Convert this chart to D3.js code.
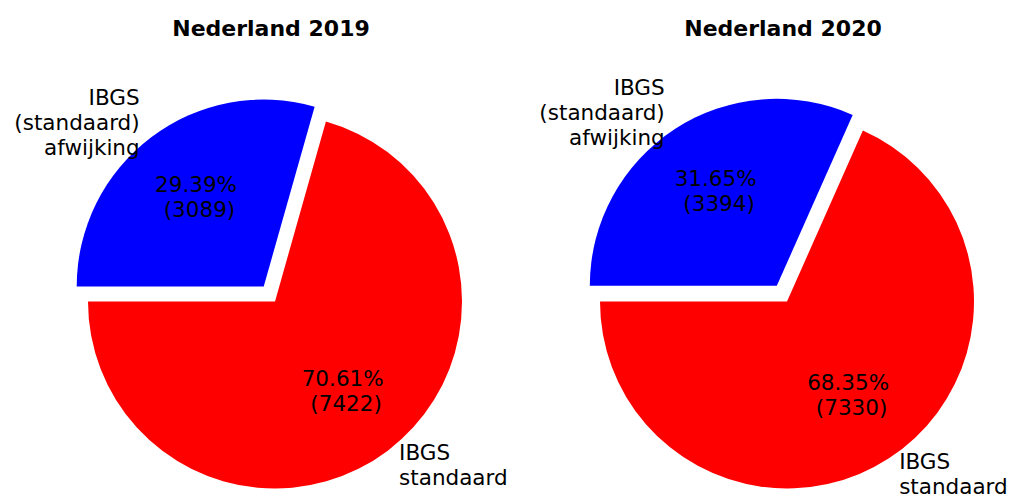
<!DOCTYPE html>
<html>
<head>
<meta charset="utf-8">
<script src="https://cdn.jsdelivr.net/npm/d3@7"></script>
<style>
  html, body { margin: 0; padding: 0; background: #fff; }
  svg { display: block; }
  text { font-family: "DejaVu Sans", sans-serif; fill: #000; white-space: pre; }
</style>
</head>
<body>
<svg id="chart" width="1014" height="495"></svg>
<script>
// ---- data ----
const titles = ["Nederland 2019", "Nederland 2020"];
const categories = ["IBGS\nstandaard", "IBGS\n(standaard)\nafwijking"];
const values2019 = [7422, 3089];
const values2020 = [7330, 3394];
const colors = ["#ff0000", "#0000ff"];
const explode = [0, 0.1];

// ---- layout ----
const W = 1014, H = 495;
const R = 187;
const cy = 301.5;
const centersX = [275, 787];
const titleX = [271, 783];
const titleY = 36;
const fs = 21.5, lineH = 25;

const svg = d3.select("#chart");

function multiline(sel, str, anchor, x, yc) {
  const lines = str.split("\n");
  const n = lines.length;
  const t = sel.append("text")
    .attr("text-anchor", anchor)
    .attr("font-size", fs)
    .attr("xml:space", "preserve");
  lines.forEach((ln, i) => {
    t.append("tspan")
      .attr("x", x)
      .attr("y", yc + (i - (n - 1) / 2) * lineH + 0.33 * fs)
      .text(ln);
  });
  return t;
}

function drawPie(idx, values) {
  const total = d3.sum(values);
  const g = svg.append("g").attr("transform", `translate(${centersX[idx]},${cy})`);
  // counter-clockwise from 9 o'clock (matplotlib startangle=180)
  const pie = d3.pie().sort(null).value(d => d)
    .startAngle(3 * Math.PI / 2).endAngle(-Math.PI / 2);
  const arcs = pie(values);
  const arc = d3.arc().innerRadius(0).outerRadius(R);
  const fmt = d3.format(".2f");

  arcs.forEach((a, i) => {
    const mid = (a.startAngle + a.endAngle) / 2;
    const ux = Math.sin(mid), uy = -Math.cos(mid);
    const ox = ux * explode[i] * R, oy = uy * explode[i] * R;
    g.append("path")
      .attr("d", arc(a))
      .attr("transform", `translate(${ox},${oy})`)
      .attr("fill", colors[i]);
    // outer label
    const lx = ox + ux * 1.1 * R, ly = oy + uy * 1.1 * R;
    multiline(g, categories[i], lx < 0 ? "end" : "start", lx, ly);
    // pct label
    const px = ox + ux * 0.6 * R, py = oy + uy * 0.6 * R;
    const pct = fmt(values[i] / total * 100) + "%\n (" + values[i] + ")";
    multiline(g, pct, "middle", px, py);
  });

  svg.append("text")
    .attr("x", titleX[idx]).attr("y", titleY)
    .attr("text-anchor", "middle")
    .attr("font-size", 22)
    .attr("font-weight", "bold")
    .text(titles[idx]);
}

drawPie(0, values2019);
drawPie(1, values2020);
</script>
</body>
</html>
